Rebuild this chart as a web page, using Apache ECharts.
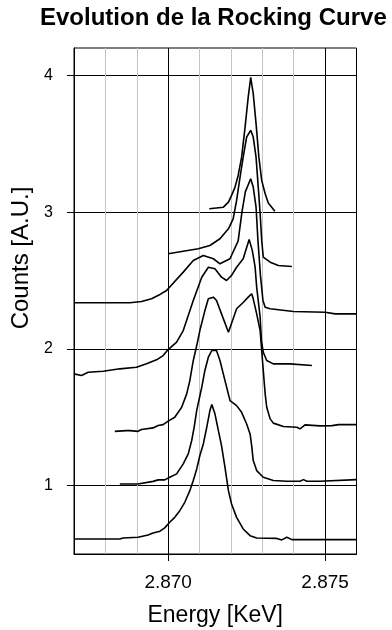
<!DOCTYPE html>
<html><head><meta charset="utf-8">
<script src="https://cdn.jsdelivr.net/npm/echarts@6/dist/echarts.min.js"></script>
<style>html,body{margin:0;padding:0;background:#fff}#c{width:392px;height:630px}</style>
</head><body><div id="c"></div>
<script>
const titleText = 'Evolution de la Rocking Curve';
const xName = 'Energy [KeV]';
const yName = 'Counts [A.U.]';
const xTickValues = [2.870, 2.875];
const yTickValues = [1, 2, 3, 4];

const curve1 = [[2.8670,0.610],[2.86846,0.610],[2.86856,0.617],[2.86904,0.622],[2.86936,0.639],[2.86952,0.654],[2.86974,0.667],[2.86989,0.691],[2.87005,0.732],[2.87021,0.768],[2.87037,0.817],[2.87053,0.878],[2.87069,0.963],[2.87080,1.037],[2.87091,1.122],[2.87101,1.220],[2.87112,1.305],[2.87123,1.427],[2.87133,1.549],[2.87139,1.593],[2.87144,1.585],[2.87149,1.525],[2.87160,1.402],[2.87170,1.293],[2.87181,1.134],[2.87192,0.963],[2.87202,0.866],[2.87218,0.768],[2.87239,0.683],[2.87261,0.634],[2.87282,0.617],[2.87346,0.614],[2.87362,0.603],[2.87378,0.622],[2.87394,0.605],[2.8760,0.605]];
const curve2 = [[2.86846,1.012],[2.86904,1.012],[2.86910,1.024],[2.86952,1.031],[2.86968,1.042],[2.86989,1.042],[2.87005,1.061],[2.87027,1.086],[2.87048,1.159],[2.87064,1.232],[2.87075,1.33],[2.87083,1.43],[2.87091,1.55],[2.87107,1.719],[2.87117,1.842],[2.87128,1.939],[2.87139,1.988],[2.87154,1.988],[2.87165,1.915],[2.87181,1.768],[2.87197,1.622],[2.87218,1.585],[2.87234,1.536],[2.87250,1.451],[2.87261,1.378],[2.87266,1.293],[2.87271,1.183],[2.87282,1.110],[2.87303,1.061],[2.87335,1.037],[2.87378,1.032],[2.87420,1.032],[2.87431,1.044],[2.87442,1.032],[2.87484,1.032],[2.87490,1.044],[2.8760,1.044]];
const curve3 = [[2.86830,1.397],[2.86867,1.402],[2.86872,1.415],[2.86878,1.402],[2.86904,1.397],[2.86915,1.410],[2.86952,1.422],[2.86968,1.439],[2.86984,1.446],[2.8700,1.472],[2.87021,1.500],[2.87043,1.573],[2.87059,1.671],[2.87069,1.768],[2.87080,1.915],[2.87091,2.024],[2.87101,2.134],[2.87117,2.280],[2.87128,2.366],[2.87144,2.378],[2.87154,2.354],[2.87170,2.256],[2.87192,2.122],[2.87207,2.220],[2.87218,2.293],[2.87239,2.339],[2.87255,2.378],[2.87266,2.403],[2.87271,2.366],[2.87282,2.256],[2.87293,2.134],[2.87298,1.988],[2.87303,1.842],[2.87309,1.671],[2.87314,1.573],[2.87325,1.488],[2.87335,1.457],[2.87367,1.432],[2.87410,1.427],[2.87420,1.415],[2.87436,1.444],[2.87484,1.437],[2.87522,1.439],[2.87543,1.446],[2.8760,1.446]];
const curve4 = [[2.8670,1.817],[2.86724,1.805],[2.86745,1.829],[2.86793,1.836],[2.86846,1.854],[2.86899,1.866],[2.86931,1.891],[2.86963,1.920],[2.86984,1.951],[2.8700,1.995],[2.87027,2.049],[2.87048,2.134],[2.87080,2.354],[2.87107,2.524],[2.87128,2.597],[2.87149,2.586],[2.87170,2.524],[2.87186,2.500],[2.87202,2.537],[2.87218,2.597],[2.87239,2.659],[2.87258,2.800],[2.87268,2.720],[2.87277,2.597],[2.87282,2.451],[2.87293,2.232],[2.87297,2.061],[2.87303,1.975],[2.87314,1.915],[2.87335,1.890],[2.87388,1.890],[2.87458,1.878]];
const curve5 = [[2.8670,2.337],[2.86878,2.337],[2.86915,2.346],[2.86947,2.366],[2.86974,2.398],[2.86995,2.427],[2.87048,2.561],[2.87080,2.646],[2.87112,2.683],[2.87144,2.659],[2.87165,2.622],[2.87197,2.659],[2.87223,2.790],[2.87235,3.000],[2.87246,3.150],[2.87263,3.244],[2.87271,3.183],[2.87280,3.036],[2.87286,2.793],[2.87294,2.537],[2.87302,2.354],[2.87309,2.305],[2.87325,2.293],[2.87399,2.273],[2.87500,2.268],[2.87532,2.256],[2.8760,2.256]];
const curve6 = [[2.8700,2.695],[2.87048,2.714],[2.87096,2.732],[2.87133,2.756],[2.87165,2.805],[2.87192,2.878],[2.87207,2.951],[2.87218,3.085],[2.87229,3.256],[2.87239,3.402],[2.87250,3.549],[2.87263,3.598],[2.87271,3.549],[2.87280,3.402],[2.87287,3.183],[2.87293,2.988],[2.87298,2.793],[2.87303,2.671],[2.87325,2.634],[2.87351,2.610],[2.87394,2.602]];
const curve7 = [[2.87131,3.025],[2.87176,3.036],[2.87192,3.073],[2.87202,3.122],[2.87213,3.183],[2.87223,3.268],[2.87234,3.402],[2.87245,3.622],[2.87255,3.841],[2.87263,3.985],[2.87271,3.866],[2.87280,3.647],[2.87289,3.402],[2.87298,3.232],[2.87309,3.134],[2.87319,3.066],[2.87340,3.007]];

const curves = [curve1, curve2, curve3, curve4, curve5, curve6, curve7];
const FONT = '"Liberation Sans", Arial, sans-serif';

const chart = echarts.init(document.getElementById('c'), null, {renderer: 'canvas'});
chart.setOption({
  animation: false,
  backgroundColor: '#fff',
  title: {
    text: titleText, left: 40, top: 6, padding: 0,
    textStyle: {fontFamily: FONT, fontSize: 24, fontWeight: 'bold', color: '#000'}
  },
  grid: {
    left: 74, right: 35.5, top: 48, bottom: 76, containLabel: false, outerBoundsMode: 'none',
    show: true, borderColor: '#000', borderWidth: 1, backgroundColor: 'transparent'
  },
  xAxis: [
    {
      type: 'value', position: 'top', min: 2.867, max: 2.876, interval: 0.001,
      axisLine: {show: false}, axisTick: {show: false}, axisLabel: {show: false},
      splitLine: {show: true, showMinLine: false, showMaxLine: false, lineStyle: {color: '#c4c4c4', width: 1}}
    },
    {
      type: 'value', position: 'bottom', min: 2.867, max: 2.876,
      axisLine: {show: true, onZero: false, lineStyle: {color: '#000', width: 1}},
      axisTick: {show: true, length: 7, inside: false, customValues: xTickValues, lineStyle: {color: '#000', width: 1}},
      axisLabel: {show: true, customValues: xTickValues, margin: 19, fontSize: 19, fontFamily: FONT, color: '#000',
        formatter: v => Number(v).toFixed(3)},
      splitLine: {show: true, lineStyle: {color: '#000', width: 1}},
      name: xName, nameLocation: 'middle', nameGap: 50,
      nameTextStyle: {fontFamily: FONT, fontSize: 23, color: '#000'}
    }
  ],
  yAxis: {
    type: 'value', min: 0.5, max: 4.2,
    axisLine: {show: true, onZero: false, lineStyle: {color: '#000', width: 1}},
    axisTick: {show: true, length: 7, inside: false, customValues: yTickValues, lineStyle: {color: '#000', width: 1}},
    axisLabel: {show: true, customValues: yTickValues, margin: 21, fontSize: 16, fontFamily: FONT, color: '#000',
      padding: [0, 0, 6, 0]},
    splitLine: {show: true, lineStyle: {color: '#000', width: 1}},
    name: yName, nameLocation: 'middle', nameGap: 32, nameRotate: 90,
    nameTextStyle: {fontFamily: FONT, fontSize: 24, color: '#000', padding: [0, 0, 0, 86]}
  },
  series: curves.map((c, i) => ({
    type: 'line', name: 'c' + (i + 1), xAxisIndex: 0, yAxisIndex: 0, data: c,
    showSymbol: false, symbol: 'none', clip: true, z: 5,
    lineStyle: {color: '#000', width: 1.6}, itemStyle: {color: '#000'}
  }))
});
</script></body></html>
